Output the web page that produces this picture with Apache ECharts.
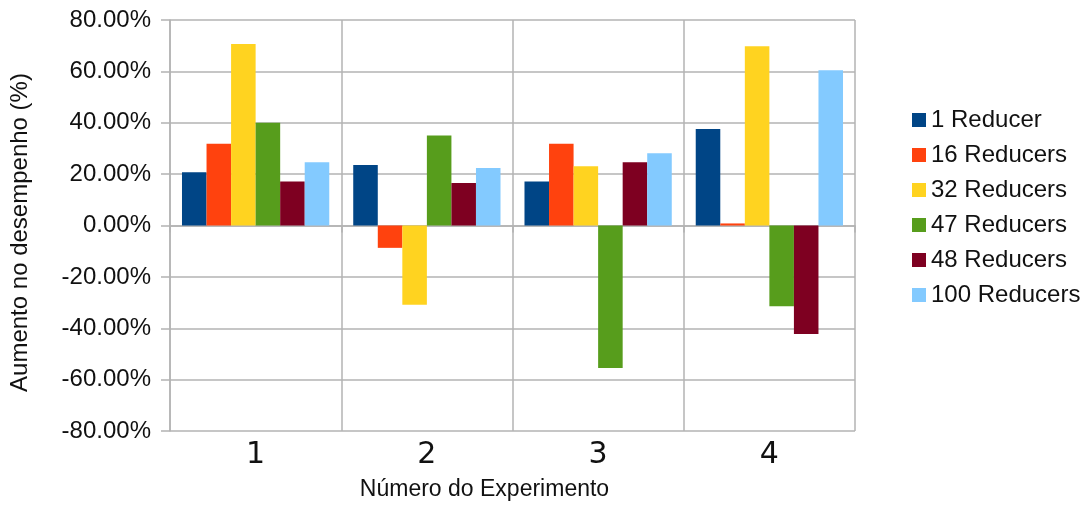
<!DOCTYPE html>
<html>
<head>
<meta charset="utf-8">
<script src="https://cdn.jsdelivr.net/npm/echarts@6/dist/echarts.min.js"></script>
<style>
  html, body { margin: 0; padding: 0; background: #fff; }
  #chart { width: 1085px; height: 505px; }
</style>
</head>
<body>
<div id="chart"></div>
<script>
// Experiment numbers on the x axis
const experiments = ['1', '2', '3', '4'];

// Performance gain (%) per reducer configuration, one value per experiment
const reducers1 = [20.7, 23.6, 17.1, 37.6];
const reducers16 = [31.8, -8.7, 31.8, 0.8];
const reducers32 = [70.7, -30.9, 23.1, 69.8];
const reducers47 = [40.0, 35.0, -55.5, -31.4];
const reducers48 = [17.1, 16.5, 24.6, -42.2];
const reducers100 = [24.6, 22.4, 28.1, 60.4];

const seriesNames = ['1 Reducer', '16 Reducers', '32 Reducers', '47 Reducers', '48 Reducers', '100 Reducers'];
const seriesValues = [reducers1, reducers16, reducers32, reducers47, reducers48, reducers100];
const seriesColors = ['#004586', '#ff420e', '#ffd320', '#579d1c', '#7e0021', '#83caff'];

const fontFamily = '"Liberation Sans", Arial, sans-serif';
const gridColor = '#b3b3b3';
const textColor = '#111';

const chart = echarts.init(document.getElementById('chart'), null, { renderer: 'canvas' });

chart.setOption({
  animation: false,
  textStyle: { fontFamily: fontFamily },
  grid: { left: 170, right: 230, top: 20, bottom: 74, containLabel: false, outerBoundsMode: 'none' },
  legend: {
    orient: 'vertical',
    left: 907,
    top: 103,
    itemWidth: 14,
    itemHeight: 14,
    itemGap: 11,
    icon: 'rect',
    textStyle: { fontSize: 24, color: textColor, fontFamily: fontFamily },
    data: seriesNames
  },
  xAxis: {
    type: 'category',
    data: experiments,
    name: 'Número do Experimento',
    nameLocation: 'middle',
    nameGap: 47,
    nameTextStyle: { fontSize: 23, color: textColor, padding: [0, 56, 0, 0] },
    axisLine: { show: true, lineStyle: { color: gridColor, width: 1.5 } },
    axisTick: { show: true, length: 7, lineStyle: { color: gridColor, width: 1.5 } },
    axisLabel: { fontSize: 30, color: textColor, margin: 9, fontFamily: '"DejaVu Sans", sans-serif' },
    splitLine: { show: true, lineStyle: { color: gridColor, width: 1.5 } }
  },
  yAxis: {
    type: 'value',
    min: -80,
    max: 80,
    interval: 20,
    name: 'Aumento no desempenho (%)',
    nameLocation: 'middle',
    nameGap: 138,
    nameTextStyle: { fontSize: 24, color: textColor, padding: [0, 14, 0, 0] },
    axisLine: { show: true, lineStyle: { color: gridColor, width: 1.5 } },
    axisTick: { show: true, length: 9, lineStyle: { color: gridColor, width: 1.5 } },
    axisLabel: {
      fontSize: 24,
      color: textColor,
      margin: 19,
      formatter: v => v.toFixed(2) + '%'
    },
    splitLine: { show: true, lineStyle: { color: gridColor, width: 1.5 } }
  },
  series: seriesNames.map((name, i) => ({
    name: name,
    type: 'bar',
    data: seriesValues[i],
    barGap: '0%',
    barCategoryGap: '14%',
    itemStyle: { color: seriesColors[i] }
  }))
});
</script>
</body>
</html>
